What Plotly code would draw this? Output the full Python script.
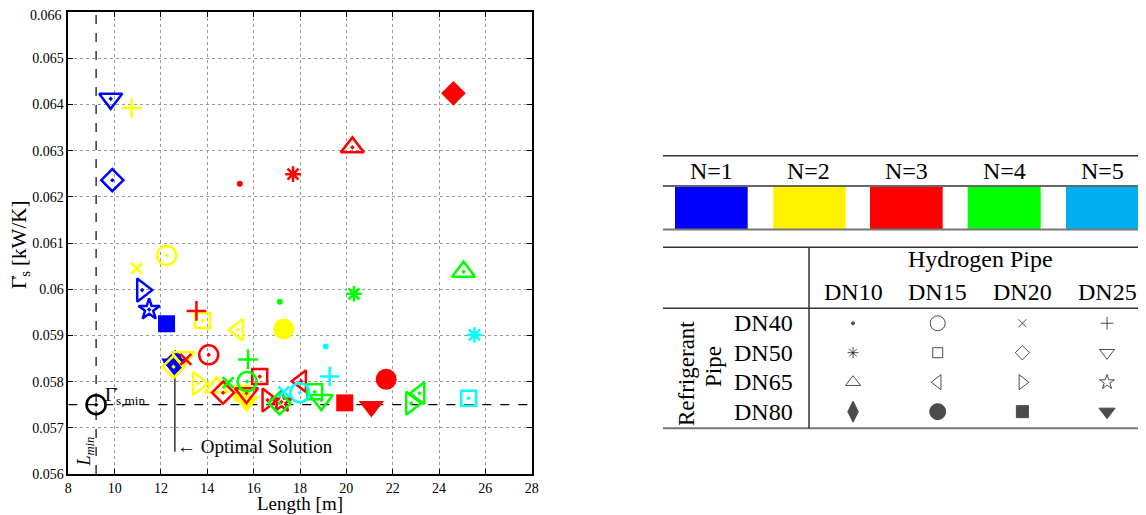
import plotly.graph_objects as go

# ---------------- data ----------------
n_values = [1, 2, 3, 4, 5]
n_labels = ["N=1", "N=2", "N=3", "N=4", "N=5"]
hydrogen_pipes = ["DN10", "DN15", "DN20", "DN25"]
refrigerant_pipes = ["DN40", "DN50", "DN65", "DN80"]

# each point: N, hydrogen pipe, refrigerant pipe, length [m], entropy rate [kW/K]
pt_n = [1, 1, 1, 1, 1, 1, 1,
        2, 2, 2, 2, 2, 2, 2, 2, 2, 2, 2, 2,
        3, 3, 3, 3, 3, 3, 3, 3, 3, 3, 3, 3, 3, 3, 3, 3,
        4, 4, 4, 4, 4, 4, 4, 4, 4, 4, 4,
        5, 5, 5, 5, 5, 5]
pt_h = ["DN25", "DN20", "DN20", "DN25", "DN20", "DN25", "DN10",
        "DN25", "DN20", "DN15", "DN15", "DN15", "DN15", "DN20", "DN25", "DN20", "DN10", "DN20", "DN25",
        "DN10", "DN10", "DN10", "DN10", "DN25", "DN15", "DN20", "DN20", "DN15", "DN25", "DN20", "DN15", "DN25", "DN20", "DN25", "DN15",
        "DN10", "DN10", "DN10", "DN25", "DN20", "DN15", "DN20", "DN15", "DN25", "DN20", "DN15",
        "DN10", "DN10", "DN25", "DN15", "DN15", "DN20"]
pt_r = ["DN50", "DN50", "DN65", "DN65", "DN80", "DN80", "DN80",
        "DN40", "DN40", "DN40", "DN50", "DN65", "DN80", "DN50", "DN50", "DN65", "DN65", "DN80", "DN80",
        "DN80", "DN65", "DN50", "DN40", "DN40", "DN40", "DN40", "DN50", "DN50", "DN50", "DN65", "DN65", "DN65", "DN80", "DN80", "DN80",
        "DN65", "DN50", "DN40", "DN40", "DN40", "DN40", "DN50", "DN50", "DN50", "DN65", "DN65",
        "DN50", "DN40", "DN40", "DN50", "DN40", "DN40"]
pt_len = [9.83, 9.90, 11.19, 11.49, 12.24, 12.55, 12.62,
          10.73, 10.95, 12.24, 13.79, 15.33, 17.30, 12.54, 12.95, 13.60, 14.40, 15.50, 15.70,
          24.62, 20.26, 17.70, 15.40, 13.53, 14.06, 13.07, 14.68, 16.26, 15.69, 16.60, 18.05, 17.20, 19.93, 21.08, 21.72,
          25.06, 20.33, 17.13, 15.76, 14.90, 15.72, 17.12, 18.63, 18.92, 22.80, 23.16,
          25.53, 19.11, 19.28, 25.28, 17.99, 17.30]
pt_gamma = [0.06412, 0.06236, 0.05998, 0.05956, 0.05925, 0.05838, 0.05842,
            0.06392, 0.06045, 0.06073, 0.05932, 0.05912, 0.05914, 0.05832, 0.05853, 0.05796, 0.05788, 0.05775, 0.05757,
            0.06424, 0.06307, 0.06249, 0.06228, 0.05953, 0.05858, 0.05848, 0.05776, 0.05811, 0.05775, 0.05760, 0.05801, 0.05756, 0.05754, 0.05746, 0.05805,
            0.06038, 0.05990, 0.05973, 0.05848, 0.05798, 0.05800, 0.05753, 0.05778, 0.05760, 0.05753, 0.05775,
            0.05901, 0.05876, 0.05811, 0.05764, 0.05776, 0.05778]

l_min = 9.2
gamma_min = 0.0575
optimal_len = 12.6
optimal_gamma = 0.05838

x_ticks = [8, 10, 12, 14, 16, 18, 20, 22, 24, 26, 28]
y_ticks = [0.056, 0.057, 0.058, 0.059, 0.060, 0.061, 0.062, 0.063, 0.064, 0.065, 0.066]
y_ticktext = ["0.056", "0.057", "0.058", "0.059", "0.06", "0.061", "0.062", "0.063", "0.064", "0.065", "0.066"]

# ---------------- styles ----------------
plot_colors = {1: "#0000FF", 2: "#FFFF00", 3: "#FF0000", 4: "#00FF00", 5: "#00FFFF"}
table_colors = ["#0000FF", "#FFF200", "#FF0000", "#00FF00", "#00AEEF"]

# (hydrogen, refrigerant) -> (symbol, size, filled)
sym = {
    ("DN10", "DN40"): ("circle", 6, True),
    ("DN15", "DN40"): ("circle-open-dot", 19, False),
    ("DN20", "DN40"): ("x-thin-open", 11, False),
    ("DN25", "DN40"): ("cross-thin-open", 14, False),
    ("DN10", "DN50"): ("asterisk-open", 13, False),
    ("DN15", "DN50"): ("square-open-dot", 15, False),
    ("DN20", "DN50"): ("diamond-open-dot", 17, False),
    ("DN25", "DN50"): ("triangle-down-open-dot", 20, False),
    ("DN10", "DN65"): ("triangle-up-open-dot", 20, False),
    ("DN15", "DN65"): ("triangle-left-open-dot", 19, False),
    ("DN20", "DN65"): ("triangle-right-open-dot", 20, False),
    ("DN25", "DN65"): ("star-open-dot", 16, False),
    ("DN10", "DN80"): ("diamond", 19, True),
    ("DN15", "DN80"): ("circle", 21, True),
    ("DN20", "DN80"): ("square", 17, True),
    ("DN25", "DN80"): ("triangle-down", 22, True),
}
tsym = {
    ("DN10", "DN40"): ("circle", 3),
    ("DN15", "DN40"): ("circle-open", 15),
    ("DN20", "DN40"): ("x-thin-open", 8),
    ("DN25", "DN40"): ("cross-thin-open", 9),
    ("DN10", "DN50"): ("asterisk-open", 9),
    ("DN15", "DN50"): ("square-open", 10),
    ("DN20", "DN50"): ("diamond-open", 11),
    ("DN25", "DN50"): ("triangle-down-open", 13),
    ("DN10", "DN65"): ("triangle-up-open", 13),
    ("DN15", "DN65"): ("triangle-left-open", 13),
    ("DN20", "DN65"): ("triangle-right-open", 13),
    ("DN25", "DN65"): ("star-open", 11),
    ("DN10", "DN80"): ("diamond-tall", 15),
    ("DN15", "DN80"): ("circle", 16),
    ("DN20", "DN80"): ("square", 12),
    ("DN25", "DN80"): ("triangle-down", 14),
}

OFF = 8                      # page body margin
W, H = 1146 - OFF, 515 - OFF
FONT = "Liberation Serif"

def px(x):
    return (x - OFF) / W

def py(y):
    return 1 - (y - OFF) / H

fig = go.Figure()

# reference dashed lines
fig.add_trace(go.Scatter(x=[l_min, l_min], y=[y_ticks[0], y_ticks[-1]], mode="lines",
                         line=dict(color="black", width=1.2, dash="dash"), showlegend=False, hoverinfo="skip"))
fig.add_trace(go.Scatter(x=[x_ticks[0], x_ticks[-1]], y=[gamma_min, gamma_min], mode="lines",
                         line=dict(color="black", width=1.2, dash="dash"), showlegend=False, hoverinfo="skip"))
# optimal solution pointer line
fig.add_trace(go.Scatter(x=[optimal_len, optimal_len], y=[optimal_gamma, 0.05648], mode="lines",
                         line=dict(color="black", width=1.2), showlegend=False, hoverinfo="skip"))

# data points
for i in range(len(pt_n)):
    s, size, filled = sym[(pt_h[i], pt_r[i])]
    c = plot_colors[pt_n[i]]
    fig.add_trace(go.Scatter(
        x=[pt_len[i]], y=[pt_gamma[i]], mode="markers", showlegend=False,
        marker=dict(symbol=s, size=size, color=c,
                    line=dict(color=c, width=0 if filled else 2.5)),
    ))

# minimum marker
fig.add_trace(go.Scatter(x=[l_min], y=[gamma_min], mode="markers", showlegend=False,
                         marker=dict(symbol="circle-open-dot", size=19, color="black",
                                     line=dict(color="black", width=2.5))))

# legend table symbols (categorical axes)
tx, ty, ts, tz = [], [], [], []
for r in refrigerant_pipes:
    for h in hydrogen_pipes:
        s, z = tsym[(h, r)]
        tx.append(h); ty.append(r); ts.append(s); tz.append(z)
fig.add_trace(go.Scatter(x=tx, y=ty, mode="markers", xaxis="x2", yaxis="y2", showlegend=False,
                         marker=dict(symbol=ts, size=tz, color="black", line=dict(color="black", width=1))))

axis_common = dict(showline=True, linecolor="black", linewidth=1.5, mirror="allticks",
                   ticks="inside", ticklen=5, tickcolor="black", showgrid=True,
                   gridcolor="#9a9a9a", griddash="dot", gridwidth=1, zeroline=False,
                   ticklabeloverflow="allow",
                   tickfont=dict(family=FONT, size=14, color="black"), automargin=False)

tab_x0, tab_x1 = 810.7, 1146.0
tab_units = 3.96
tab_step = (tab_x1 - tab_x0) / tab_units

# top y tick label is drawn as an annotation so the page edge does not clip it
axis_ticktext = y_ticktext[:-1] + [""]

fig.update_layout(
    width=W, height=H, margin=dict(l=0, r=0, t=0, b=0),
    paper_bgcolor="white", plot_bgcolor="white",
    font=dict(family=FONT, color="black"),
    xaxis=dict(domain=[px(68.3), px(531.7)], range=[x_ticks[0], x_ticks[-1]], tickvals=x_ticks, **axis_common),
    yaxis=dict(domain=[py(474), py(12)], range=[y_ticks[0], y_ticks[-1]], tickvals=y_ticks,
               ticktext=axis_ticktext, **axis_common),
    xaxis2=dict(domain=[px(tab_x0), px(tab_x1)], range=[-0.5, tab_units - 0.5], type="category",
                categoryarray=hydrogen_pipes, visible=False, anchor="y2"),
    yaxis2=dict(domain=[py(426.4), py(308.5)], range=[3.5, -0.5], type="category",
                categoryarray=refrigerant_pipes, visible=False, anchor="x2"),
    showlegend=False,
)

ann = []
def pa(text, x, y, size, angle=0, xa="center", ya="middle"):
    ann.append(dict(text=text, x=px(x), y=py(y), xref="paper", yref="paper", showarrow=False,
                    xanchor=xa, yanchor=ya, textangle=angle, font=dict(family=FONT, size=size, color="black")))

pa(y_ticktext[-1], 64, 15.5, 14, xa="right")
# axis titles
pa("Length [m]", 300, 503, 19)
pa("Γ̇<sub>s</sub> [kW/K]", 20, 245, 21, angle=-90)
# in-plot annotations
ann.append(dict(text="Γ̇<sub>s,min</sub>", x=9.5, y=0.05768, xref="x", yref="y", xanchor="left",
                yanchor="middle", showarrow=False, font=dict(family=FONT, size=19, color="black")))
ann.append(dict(text="<i>L</i><sub><i>min</i></sub>", x=8.75, y=0.05648, xref="x", yref="y",
                xanchor="center", yanchor="middle", textangle=-90, showarrow=False,
                font=dict(family=FONT, size=18, color="black")))
ann.append(dict(text="← Optimal Solution", x=optimal_len, y=0.05659, xref="x", yref="y", xanchor="left",
                yanchor="middle", showarrow=False, font=dict(family=FONT, size=19, color="black")))

# color legend table
col_centers = [711, 808, 906, 1004, 1102]
for k, lab in enumerate(n_labels):
    pa(lab, col_centers[k], 171, 24)

# symbol table text
pa("Hydrogen Pipe", 980, 259, 24)
for i, h in enumerate(hydrogen_pipes):
    pa(h, tab_x0 + (i + 0.5) * tab_step, 292, 24)
row_step = (426.4 - 308.5) / 4
for j, r in enumerate(refrigerant_pipes):
    pa(r, 763, 308.5 + (j + 0.5) * row_step, 24)
pa("Refrigerant", 686, 374, 23, angle=-90)
pa("Pipe", 713, 367, 23, angle=-90)
fig.update_layout(annotations=ann)

shapes = []
def hline(y, x0=663, x1=1146, w=1.5, c="#333"):
    shapes.append(dict(type="line", xref="paper", yref="paper", x0=px(x0), x1=px(x1),
                       y0=py(y), y1=py(y), line=dict(color=c, width=w)))
hline(155.7)
hline(186)
hline(229.5, w=2, c="#777")
hline(247.3)
hline(308.3)
hline(428.3, w=2, c="#777")
shapes.append(dict(type="line", xref="paper", yref="paper", x0=px(809), x1=px(809),
                   y0=py(247.3), y1=py(428.3), line=dict(color="#333", width=1.5)))
rect_x = [(675, 747.7), (773.3, 845.7), (870, 942.7), (967.7, 1040.7), (1066, 1138.7)]
for k, (a, b) in enumerate(rect_x):
    shapes.append(dict(type="rect", xref="paper", yref="paper", x0=px(a), x1=px(b),
                       y0=py(229), y1=py(187), fillcolor=table_colors[k], line=dict(width=0), layer="below"))
fig.update_layout(shapes=shapes)

fig.write_html("out.html")
